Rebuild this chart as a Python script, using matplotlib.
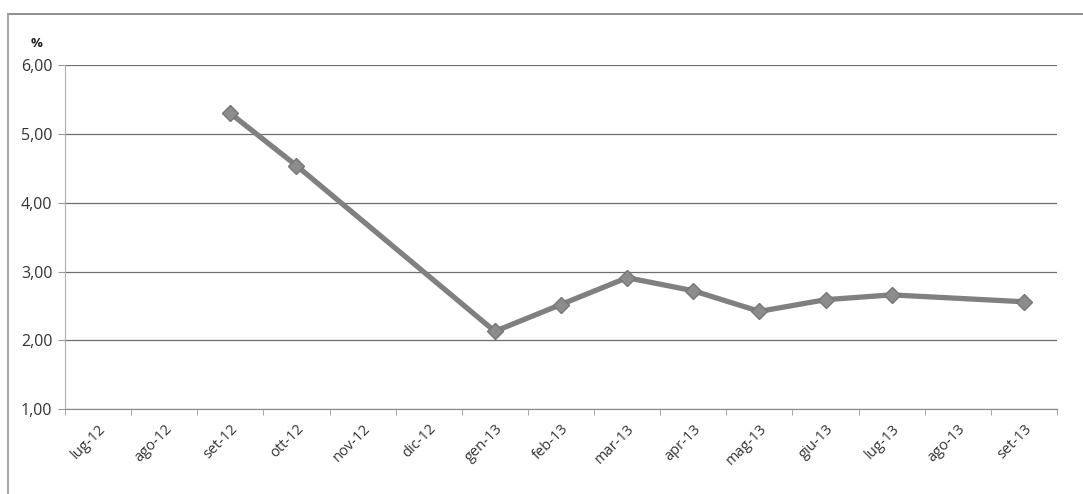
#!/usr/bin/env python3

import numpy as np
import matplotlib
matplotlib.use('Agg')
import matplotlib.pyplot as plt
from matplotlib.ticker import FuncFormatter, FixedLocator

plt.rcParams['font.family'] = ['Open Sans', 'DejaVu Sans']

months = ['lug-12', 'ago-12', 'set-12', 'ott-12', 'nov-12', 'dic-12', 'gen-13',
          'feb-13', 'mar-13', 'apr-13', 'mag-13', 'giu-13', 'lug-13', 'ago-13', 'set-13']
# None = no reading for that month (Excel connects over the gap)
rate = [None, None, 5.30, 4.54, None, None, 2.13,
        2.52, 2.91, 2.72, 2.42, 2.59, 2.66, None, 2.56]

x = np.arange(len(months))
pts = [(i, v) for i, v in zip(x, rate) if v is not None]
px = [p[0] for p in pts]
py = [p[1] for p in pts]

fig = plt.figure(figsize=(10.83, 4.94), dpi=100)
ax = fig.add_axes([0.060, 0.172, 0.916, 0.696])

ax.plot(px, py, color='#808080', lw=3.8, marker='D', ms=8,
        mec='#767676', mfc='#8c8c8c', solid_joinstyle='round', zorder=3)

ax.set_xlim(-0.5, len(months) - 0.5)
ax.set_ylim(1, 6)
ax.set_yticks(np.arange(1, 6.01, 1))
ax.yaxis.set_major_formatter(FuncFormatter(lambda v, p: ('%.2f' % v).replace('.', ',')))
ax.yaxis.grid(True, color='#6e6e6e', lw=0.9)
ax.set_axisbelow(True)

ax.set_xticks(x)
ax.set_xticklabels(months, rotation=45, ha='right', rotation_mode='anchor', fontsize=10.5, color='#333333')
ax.xaxis.set_minor_locator(FixedLocator(np.arange(-0.5, len(months), 1)))
ax.tick_params(axis='x', which='major', length=0, pad=9)
ax.tick_params(axis='x', which='minor', length=4, color='#999999', direction='out')
ax.tick_params(axis='y', length=5, color='#999999', labelsize=11.5, labelcolor='#333333', pad=4)

for s in ['top', 'right']:
    ax.spines[s].set_visible(False)
ax.spines['left'].set_color('#b0b0b0')
ax.spines['bottom'].set_color('#8a8a8a')

fig.text(0.028, 0.905, '%', fontsize=9.5, fontweight='bold', color='#222222')

# outer box (only top and left edges show in the scan)
fig.add_artist(plt.Line2D([0.0075, 1.0], [0.972, 0.972], transform=fig.transFigure, color='#7a7a7a', lw=1.2))
fig.add_artist(plt.Line2D([0.0075, 0.0075], [0.0, 0.972], transform=fig.transFigure, color='#9a9a9a', lw=1.2))

fig.savefig('out.png', dpi=100)
